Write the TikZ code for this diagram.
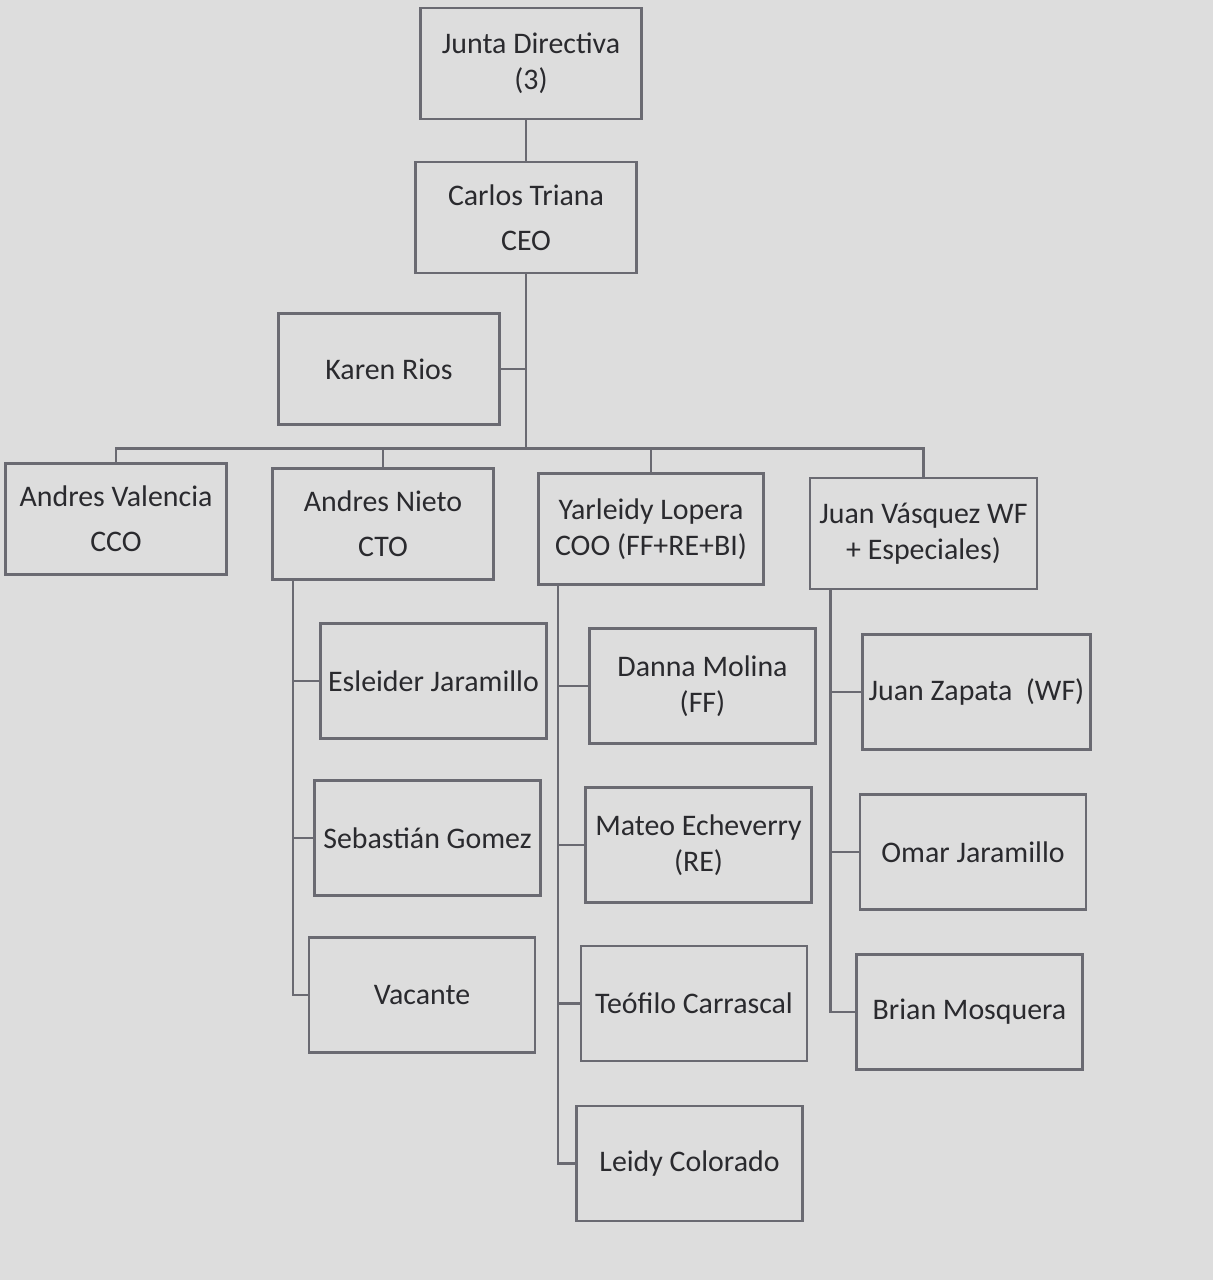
\documentclass[tikz,border=0pt]{standalone}
\usepackage{fontspec}
\setmainfont{Carlito}
\usepackage{tikz}
\usetikzlibrary{positioning, calc}

\definecolor{bgcol}{HTML}{DDDDDD}
\definecolor{linecol}{HTML}{6A6A72}
\definecolor{txtcol}{HTML}{2A2A2E}

\begin{document}
\begin{tikzpicture}[
  box/.style={rectangle, draw=linecol, line width=1.5pt, fill=bgcol, minimum width=4.42cm, minimum height=2.22cm, align=center, text=txtcol, font=\fontsize{17}{20.5}\selectfont},
  subbox/.style={box, minimum width=4.52cm, minimum height=2.3cm},
  link/.style={draw=linecol, line width=1.4pt}
]

\fill [bgcol] (0,0) rectangle (24.26,-25.6);
\useasboundingbox (0,0) rectangle (24.26,-25.6);

\node (junta) [box] at (10.62,-1.27) {Junta Directiva\\(3)};
\node (ceo) [box] at (10.52,-4.35) {Carlos Triana\\[5pt]CEO};
\node (karen) [box] at (7.78,-7.38) {Karen Rios};

\node (cco) [box] at (2.32,-10.38) {Andres Valencia\\[5pt]CCO};
\node (cto) [box] at (7.66,-10.48) {Andres Nieto\\[5pt]CTO};
\node (coo) [box, minimum width=4.5cm] at (13.02,-10.58) {Yarleidy Lopera\\COO (FF+RE+BI)};
\node (wf) [box, minimum width=4.54cm] at (18.47,-10.67) {Juan Vásquez WF\\+ Especiales)};

\node (esleider) [subbox] at (8.67,-13.62) {Esleider Jaramillo};
\node (sebastian) [subbox] at (8.55,-16.76) {Sebastián Gomez};
\node (vacante) [subbox] at (8.44,-19.9) {Vacante};

\node (danna) [subbox] at (14.05,-13.72) {Danna Molina\\(FF)};
\node (mateo) [subbox] at (13.97,-16.9) {Mateo Echeverry\\(RE)};
\node (teofilo) [subbox] at (13.88,-20.07) {Teófilo Carrascal};
\node (leidy) [subbox] at (13.79,-23.27) {Leidy Colorado};

\node (zapata) [subbox] at (19.53,-13.84) {Juan Zapata~~(WF)};
\node (omar) [subbox] at (19.46,-17.04) {Omar Jaramillo};
\node (brian) [subbox] at (19.39,-20.24) {Brian Mosquera};

\coordinate (bus) at ($(ceo.south)+(0,-3.48)$);

\draw [link] (ceo.north) -- (ceo.north |- junta.south);
\draw [link] (ceo.south) -- (bus);
\draw [link] (karen.east) -- (karen.east -| ceo.south);
\draw [link] (cco.north) |- (bus) -| (wf.north);
\draw [link] (cto.north) -- (cto.north |- bus);
\draw [link] (coo.north) -- (coo.north |- bus);

\draw [link] ([xshift=0.44cm]cto.south west) coordinate (ctoline) |- (vacante.west);
\foreach \n in {esleider,sebastian}
  \draw [link] (\n.west) -- (\n.west -| ctoline);

\draw [link] ([xshift=0.42cm]coo.south west) coordinate (cooline) |- (leidy.west);
\foreach \n in {danna,mateo,teofilo}
  \draw [link] (\n.west) -- (\n.west -| cooline);

\draw [link] ([xshift=0.44cm]wf.south west) coordinate (wfline) |- (brian.west);
\foreach \n in {zapata,omar}
  \draw [link] (\n.west) -- (\n.west -| wfline);

\end{tikzpicture}
\end{document}
